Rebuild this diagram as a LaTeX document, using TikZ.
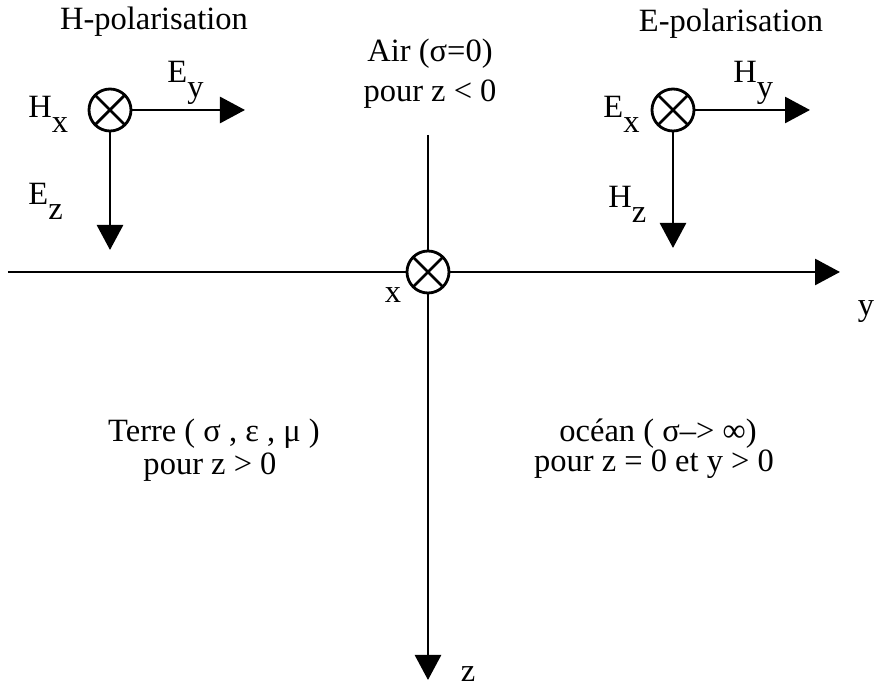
\documentclass[tikz,border=0pt]{standalone}
\usepackage{fontspec}
\setmainfont{Liberation Serif}
\usetikzlibrary{arrows.meta,positioning}
\definecolor{ink}{HTML}{000000}
\newcommand{\lowsub}[1]{\raisebox{-0.45em}{#1}}

\begin{document}
\begin{tikzpicture}[
    >={Triangle[length=5.0mm,width=5.2mm]},
    font=\fontsize{18.5}{22}\selectfont,
    line width=1.6pt,
    otimes/.style={circle, draw=ink, minimum size=8.4mm, inner sep=0pt,
                   path picture={\draw[ink, line width=1.6pt]
                     (path picture bounding box.north west) -- (path picture bounding box.south east)
                     (path picture bounding box.north east) -- (path picture bounding box.south west);}},
    lab/.style={anchor=base west, inner sep=0pt, text=ink},
    txt/.style={anchor=base, inner sep=0pt, text=ink},
  ]
\useasboundingbox (-8.56,5.44) rectangle (8.96,-8.34);

% axes
\node[otimes] (o) at (0,0) {};
\coordinate (yStart) at (-8.4,0);
\coordinate (yTip) at (8.24,0);
\coordinate (zTop) at (0,2.74);
\coordinate (zTip) at (0,-8.16);
\draw[ink] (yStart) -- (o.west);
\draw[->, ink] (o.east) -- (yTip);
\draw[ink] (zTop) -- (o.north);
\draw[->, ink] (o.south) -- (zTip);
\node[txt] (xlab) at (-0.7,-0.62) {x};
\node[txt] (ylab) at (8.76,-0.88) {y};
\node[txt] (zlab) at (0.8,-8.2) {z};

% H-polarisation
\node[txt] (hpol) at (-5.48,4.84) {H-polarisation};
\node[otimes] (hc) at (-6.36,3.24) {};
\coordinate (eyTip) at (-3.66,3.24);
\coordinate (ezTip) at (-6.36,0.44);
\draw[->, ink] (hc.east) -- (eyTip);
\draw[->, ink] (hc.south) -- (ezTip);
\node[lab] (hx) at (-8.02,3.08) {H\lowsub{x}};
\node[lab] (ey) at (-5.24,3.78) {E\lowsub{y}};
\node[lab] (ez) at (-8.02,1.34) {E\lowsub{z}};

% E-polarisation
\node[txt] (epol) at (6.06,4.80) {E-polarisation};
\node[otimes] (ec) at (4.9,3.24) {};
\coordinate (hyTip) at (7.64,3.24);
\coordinate (hzTip) at (4.9,0.48);
\draw[->, ink] (ec.east) -- (hyTip);
\draw[->, ink] (ec.south) -- (hzTip);
\node[lab] (ex) at (3.48,3.08) {E\lowsub{x}};
\node[lab] (hy) at (6.08,3.78) {H\lowsub{y}};
\node[lab] (hz) at (3.58,1.28) {H\lowsub{z}};

% media
\node[txt] (air) at (0.04,4.2) {Air (σ=0)};
\node[txt] (airz) at ([yshift=-0.8cm]air.base) {pour z < 0};
\node[txt] (terre) at (-4.28,-3.4) {Terre ( σ , ε , μ )};
\node[txt] (terrez) at (-4.36,-4.06) {pour z > 0};
\node[txt] (ocean) at (4.6,-3.4) {océan ( σ–> ∞)};
\node[txt] (oceanz) at (4.52,-4.0) {pour z = 0 et y > 0};

\end{tikzpicture}
\end{document}
